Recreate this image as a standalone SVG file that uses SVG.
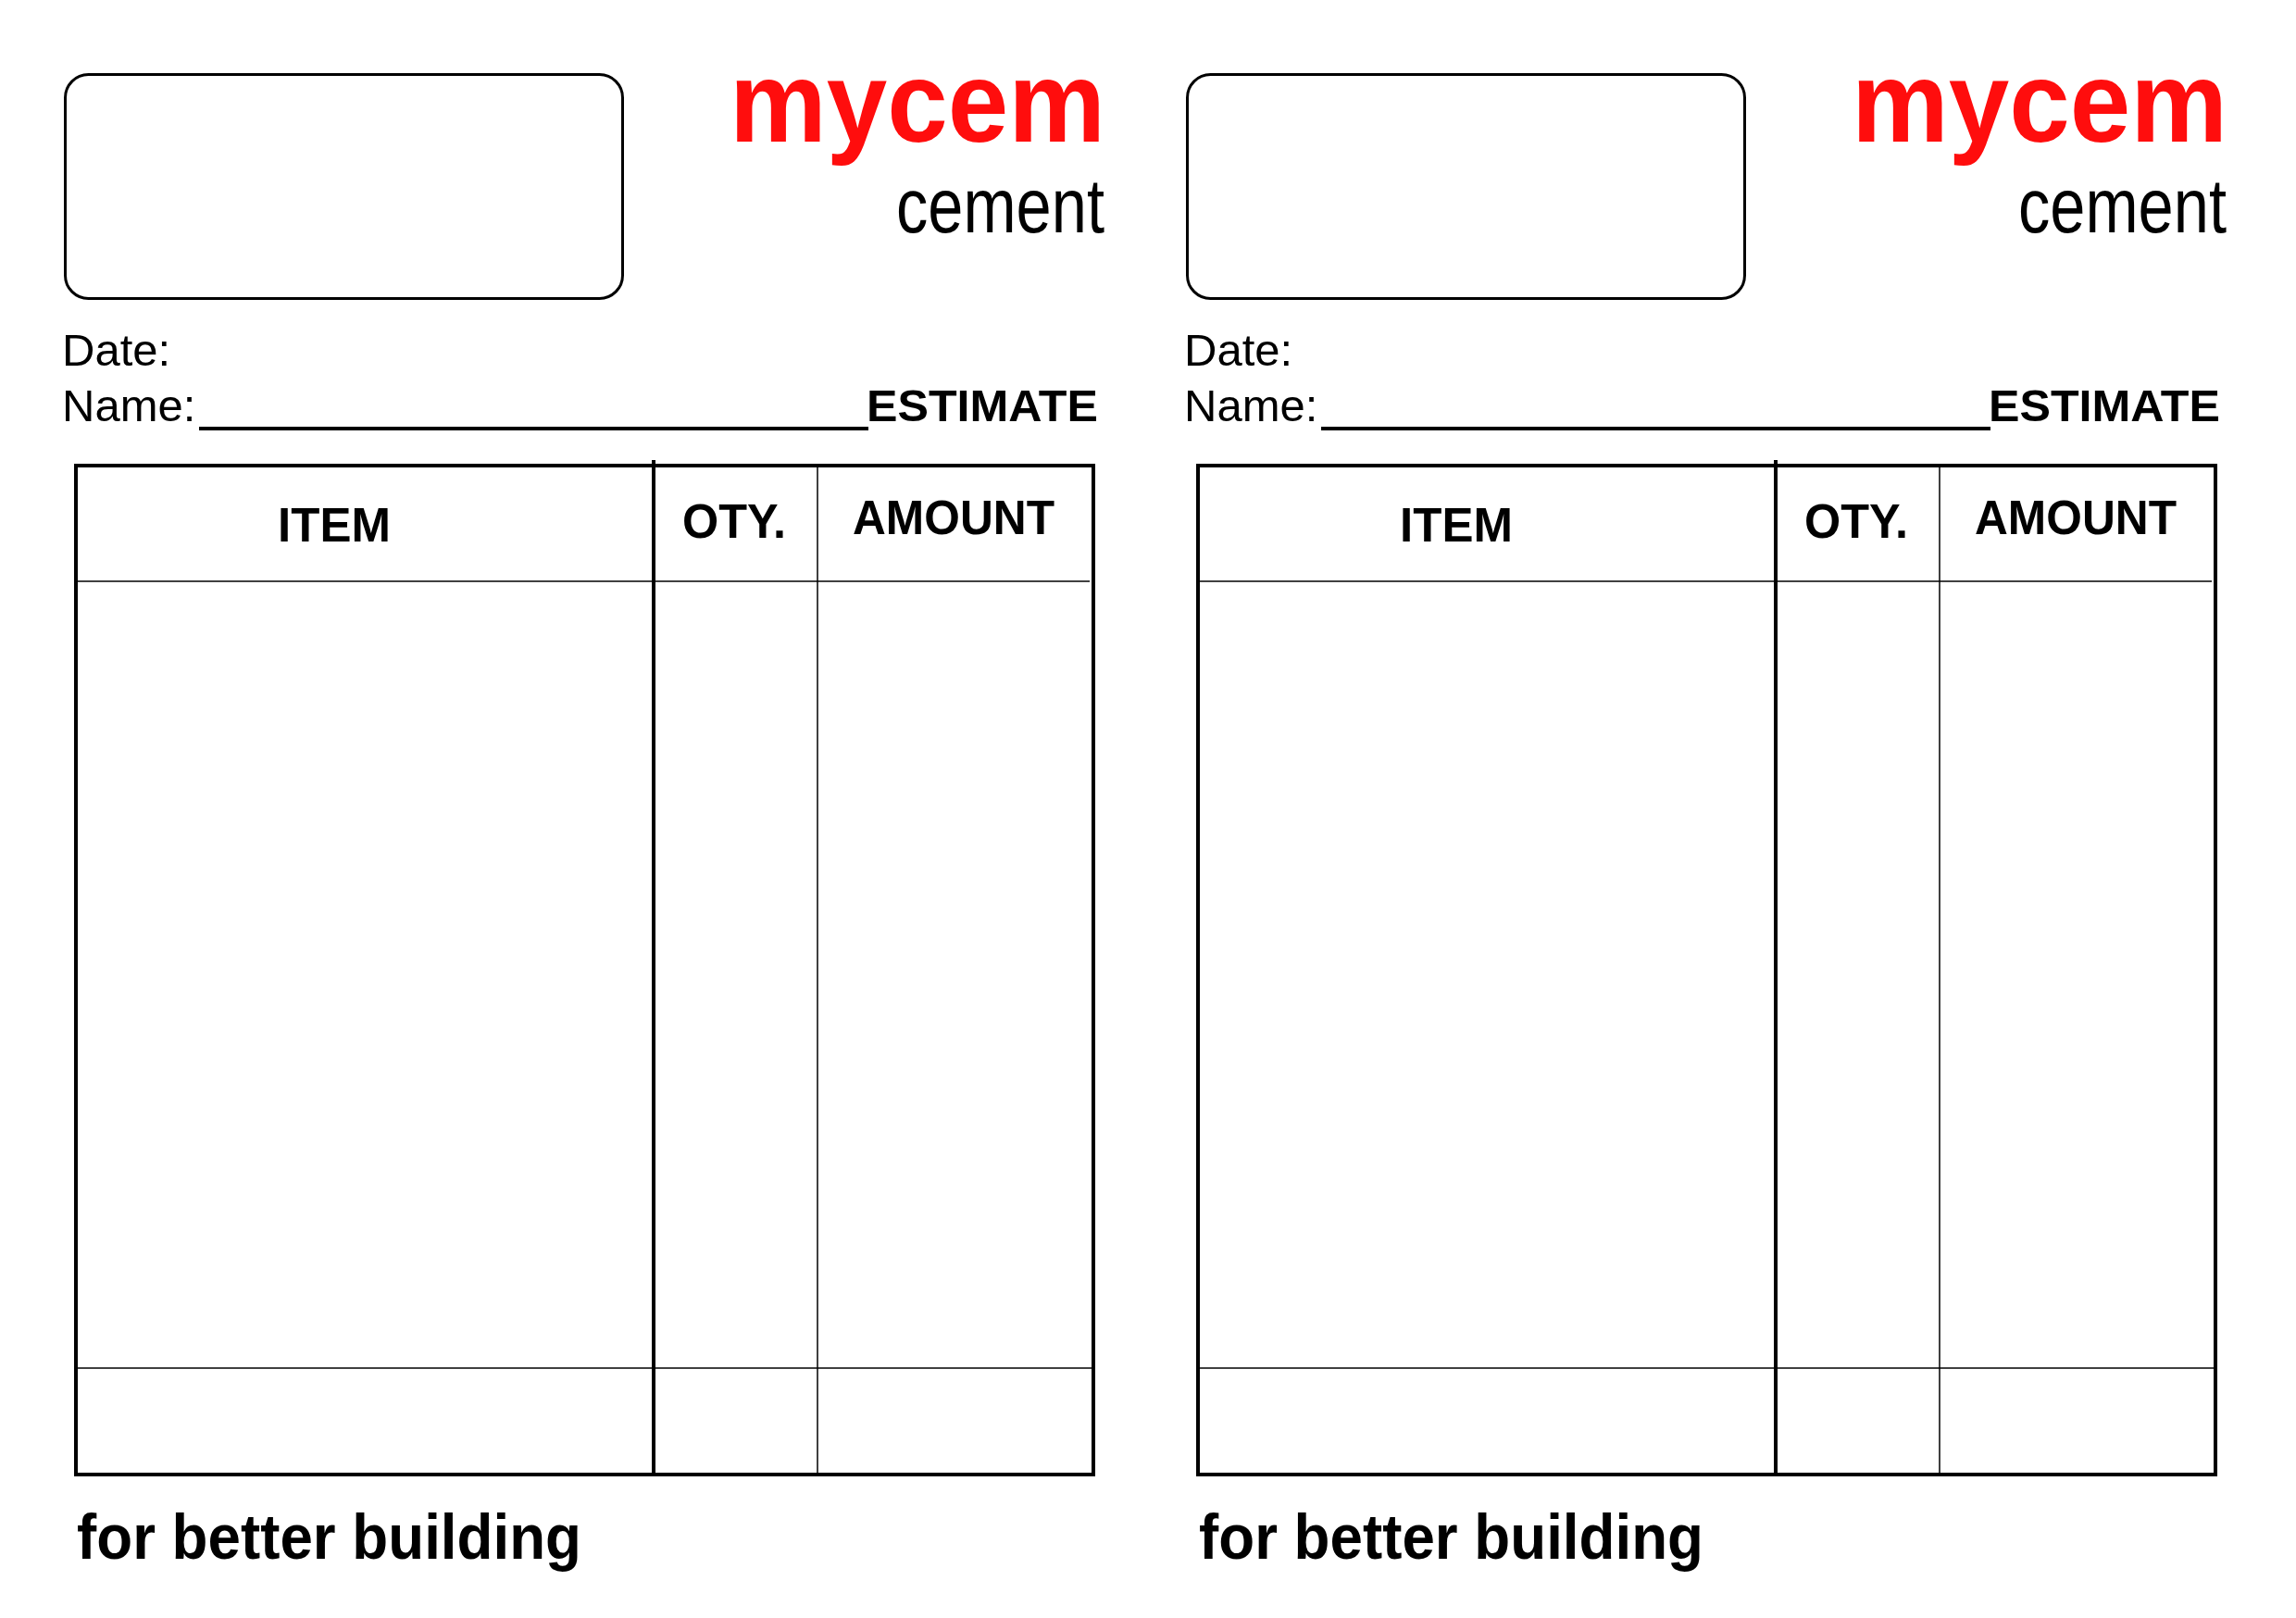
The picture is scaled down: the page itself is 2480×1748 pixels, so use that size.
<svg xmlns="http://www.w3.org/2000/svg" width="2480" height="1748" viewBox="0 0 2480 1748">
<style>
.bg{fill:#ffffff}
.box{fill:none;stroke:#000;stroke-width:3}
.thick{fill:none;stroke:#000;stroke-width:4}
.thin{fill:none;stroke:#000;stroke-width:1.5}
.brand{font-family:"Liberation Sans",Arial,sans-serif;font-weight:bold;font-size:125px;fill:#ff0d0d}
.sub{font-family:"Liberation Sans",Arial,sans-serif;font-size:83px;fill:#000}
.lbl{font-family:"Liberation Sans",Arial,sans-serif;font-size:49px;fill:#000}
.head{font-family:"Liberation Sans",Arial,sans-serif;font-weight:bold;font-size:51px;fill:#000}
.slogan{font-family:"Liberation Sans",Arial,sans-serif;font-weight:bold;font-size:69px;fill:#000}
</style>
<defs>
<g id="form">
  <rect class="box" x="70.5" y="80.5" width="602" height="242" rx="25" ry="25"/>
  <text class="brand" x="788" y="153" textLength="406" lengthAdjust="spacingAndGlyphs">mycem</text>
  <text class="sub" x="968" y="251" textLength="225" lengthAdjust="spacingAndGlyphs">cement</text>
  <text class="lbl" x="67" y="395">Date:</text>
  <text class="lbl" x="67" y="455">Name:</text>
  <line class="thick" x1="215" y1="463" x2="938" y2="463"/>
  <text class="lbl" x="936" y="455" font-weight="bold" textLength="250" lengthAdjust="spacingAndGlyphs">ESTIMATE</text>
  <rect class="thick" x="82" y="503" width="1099" height="1090"/>
  <line class="thick" x1="706" y1="497" x2="706" y2="1593"/>
  <line class="thin" x1="883" y1="503" x2="883" y2="1593"/>
  <line class="thin" x1="82" y1="628" x2="1177" y2="628"/>
  <line class="thin" x1="82" y1="1478" x2="1181" y2="1478"/>
  <text class="head" x="361" y="585" text-anchor="middle">ITEM</text>
  <text class="head" x="737" y="581" textLength="112" lengthAdjust="spacingAndGlyphs">OTY.</text>
  <text class="head" x="921" y="577" font-size="52" textLength="218" lengthAdjust="spacingAndGlyphs">AMOUNT</text>
  <text class="slogan" x="83" y="1684" textLength="545" lengthAdjust="spacingAndGlyphs">for better building</text>
</g>
</defs>
<rect class="bg" x="0" y="0" width="2480" height="1748"/>
<g id="estimate-left">
  <use href="#form"/>
</g>
<g id="estimate-right" transform="translate(1212,0)">
  <use href="#form"/>
</g>
<g id="connectors"/>
</svg>
